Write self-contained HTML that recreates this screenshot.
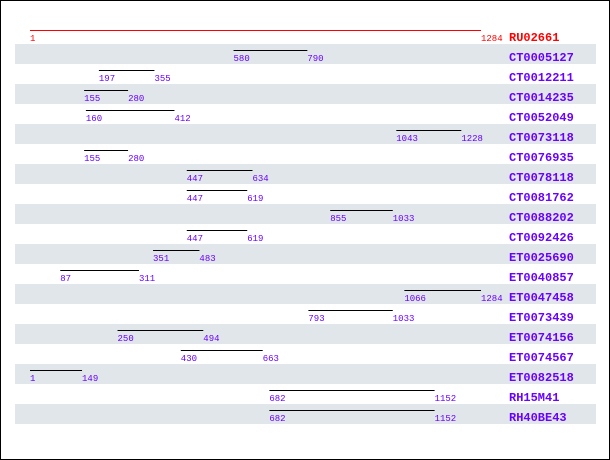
<!DOCTYPE html>
<html><head><style>
body{margin:0;width:610px;height:460px;overflow:hidden;background:#fff}
#frame{position:absolute;left:0;top:0;width:608px;height:458px;border:1px solid #000}
svg{position:absolute;left:0;top:0}
</style></head><body>
<div id="frame"></div>
<svg id="chart" width="610" height="460"></svg>
<script>
const names=["RU02661","CT0005127","CT0012211","CT0014235","CT0052049","CT0073118","CT0076935","CT0078118","CT0081762","CT0088202","CT0092426","ET0025690","ET0040857","ET0047458","ET0073439","ET0074156","ET0074567","ET0082518","RH15M41","RH40BE43"];
const starts=[1,580,197,155,160,1043,155,447,447,855,447,351,87,1066,793,250,430,1,682,682];
const ends=[1284,790,355,280,412,1228,280,634,619,1033,619,483,311,1284,1033,494,663,149,1152,1152];
const NS="http://www.w3.org/2000/svg";
const svg=document.getElementById('chart');
const xs=v=>30+(v-1)*(451/1283);
const rowTop=i=>24+20*i;
function mk(tag,attrs){const e=document.createElementNS(NS,tag);for(const k in attrs)e.setAttribute(k,attrs[k]);svg.appendChild(e);return e;}
names.forEach((n,i)=>{
  const t=rowTop(i);
  const ref=i===0;
  const col=ref?'#ff0000':'#6a00ff';
  if(i%2===1){const b=mk('rect',{x:15,y:t,width:581,height:20,fill:'#e1e6ea'});
    
    }
  const l=mk('line',{x1:xs(starts[i]),x2:xs(ends[i]),y1:t+6.5,y2:t+6.5,stroke:ref?'#ff0000':'#000','stroke-width':1});
  
  
  const s=mk('text',{x:xs(starts[i]),y:t+17,fill:col,'font-family':'Liberation Mono, monospace','font-size':'9'});
  s.textContent=starts[i];
  
  
  const e=mk('text',{x:xs(ends[i]),y:t+17,fill:col,'font-family':'Liberation Mono, monospace','font-size':'9'});
  e.textContent=ends[i];
  
  
  const nm=mk('text',{x:509,y:t+17,fill:col,'font-family':'Liberation Mono, monospace','font-size':'12','font-weight':'bold'});
  nm.textContent=n;
  
  
});
</script>
</body></html>
